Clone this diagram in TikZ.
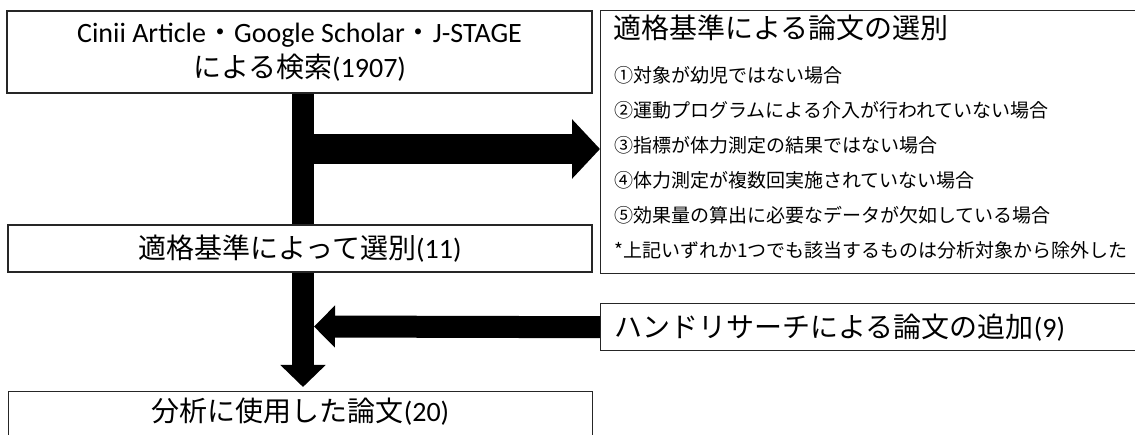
\documentclass[tikz,border=0pt]{standalone}
\usepackage{fontspec}
\setmainfont{Carlito}
\newfontfamily\jp{Noto Sans CJK JP}
\usetikzlibrary{arrows.meta}

\tikzset{
  box/.style={draw=black!85, line width=1.4pt, fill=white, inner sep=0pt},
  bigtext/.style={font=\fontsize{28}{35}\selectfont},
  itemtext/.style={font=\jp\fontsize{19}{23}\selectfont, anchor=west, inner sep=0pt},
}

\begin{document}
\begin{tikzpicture}[x=1pt, y=-1pt]
\clip (0,0) rectangle (1135,435);
\fill[white] (0,0) rectangle (1135,435);
%Left column
\node[box, bigtext, align=center, minimum width=585pt, minimum height=82pt] (search) at (299.5,52) {Cinii Article{\jp ・}Google Scholar{\jp ・}J-STAGE\\{\jp による検索}(1907)};
\node[box, bigtext, minimum width=584pt, minimum height=47pt] (filter) at (300,248.5) {{\jp 適格基準によって選別}(11)};
\node[box, bigtext, anchor=north, minimum width=584pt, text height=22pt, text depth=40pt, inner ysep=7.6pt] (result) at (300.5,391) {{\jp 分析に使用した論文}(20)};
%Right column
\node[box, anchor=north west, minimum width=560pt, minimum height=263pt] (criteria) at (600,10) {};
\node[bigtext, anchor=west, inner sep=0pt] (crit0) at (613,28) {\jp 適格基準による論文の選別};
\node[itemtext] (crit1) at (614,75) {①対象が幼児ではない場合};
\node[itemtext] (crit2) at (614,110) {②運動プログラムによる介入が行われていない場合};
\node[itemtext] (crit3) at (614,145) {③指標が体力測定の結果ではない場合};
\node[itemtext] (crit4) at (614,180) {④体力測定が複数回実施されていない場合};
\node[itemtext] (crit5) at (614,215) {⑤効果量の算出に必要なデータが欠如している場合};
\node[itemtext] (crit6) at (614,250) {*上記いずれか1つでも該当するものは分析対象から除外した};
\node[box, bigtext, anchor=north west, text width=530pt, align=left, inner xsep=14pt, minimum height=47pt] (hand) at (600,303) {{\jp ハンドリサーチによる論文の追加}(9)};
%Arrows
\coordinate (trunk) at (303,149);
\coordinate (merge) at (314,326.5);
\draw[line width=22pt] (search.south -| trunk) -- (filter.north -| trunk);
\draw[line width=22pt, -{Triangle[length=22pt, width=44pt]}, shorten >=4pt] (filter.south -| trunk) -- (result.north -| trunk);
\draw[line width=30pt, -{Triangle[length=28pt, width=58pt]}] (trunk) -- (trunk -| criteria.west);
\draw[line width=22pt, -{Triangle[length=21pt, width=41pt]}] (hand.west) -- (merge);
\end{tikzpicture}
\end{document}
